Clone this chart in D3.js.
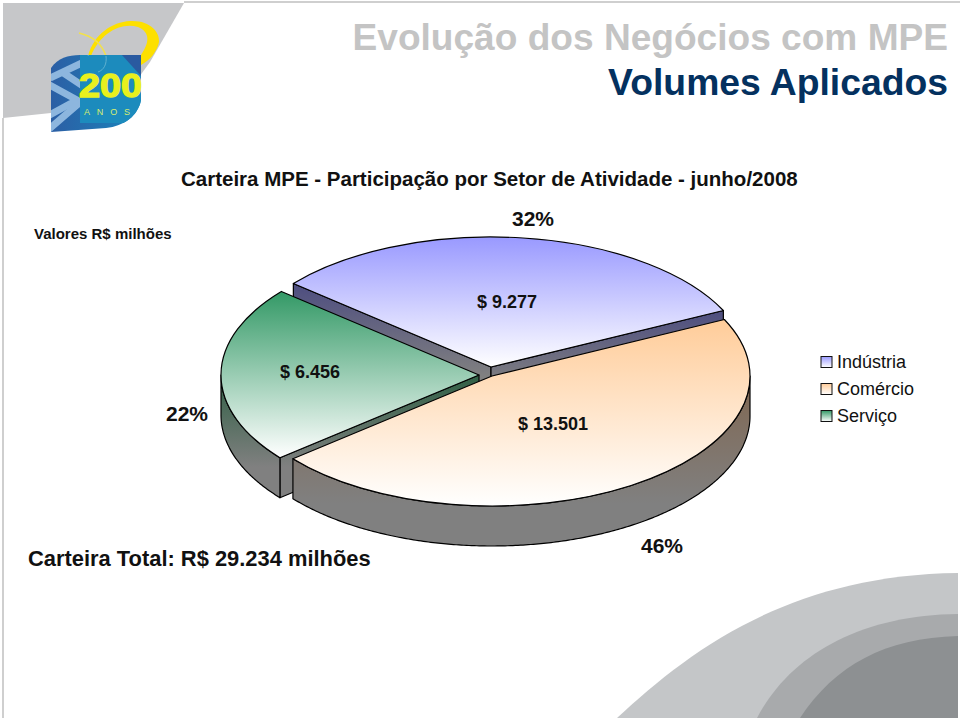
<!DOCTYPE html>
<html>
<head>
<meta charset="utf-8">
<title>Carteira MPE</title>
<script src="https://d3js.org/d3.v7.min.js"></script>
<style>
	html, body {margin:0; padding:0; background:#fff;}
	text {font-family:"Liberation Sans", Arial, sans-serif;}
</style>
</head>
<body>
<div id="ChartDiv"></div>
<script>
var Sectors = ["Indústria", "Comércio", "Serviço"];
var SectorValues = [9277, 13501, 6456];
var SectorValueLabels = ["$ 9.277", "$ 13.501", "$ 6.456"];
var SectorPercentLabels = ["32%", "46%", "22%"];
var SectorColors = ["#9999ff", "#ffcc99", "#339966"];
var SectorWallColors = ["#4d4d80", "#806650", "#2f5f44"];

var Width = 960, Height = 720;
var RadiusX = 258, RadiusY = 130, Depth = 40;
var StartAngle = -50 * Math.PI / 180;

// Each slice is pulled out a little, so each has its own centre
var SliceCentres = [[491, 367], [492, 376], [479, 375]];
var ValueLabelPos = [[507, 308], [553, 430], [310, 378]];
var PercentLabelPos = [[533, 226], [662, 553], [187, 421]];
var DrawOrder = [0, 2, 1];

var Svg = d3.select("#ChartDiv").append("svg")
	.attr("width", Width).attr("height", Height)
	.style("display", "block");
var Defs = Svg.append("defs");

function AddGradient(Id, Top, Bottom, BottomOffset) {
	var Grad = Defs.append("linearGradient").attr("id", Id)
		.attr("x1", 0).attr("y1", 0).attr("x2", 0).attr("y2", 1);
	Grad.append("stop").attr("offset", 0).attr("stop-color", Top);
	Grad.append("stop").attr("offset", BottomOffset).attr("stop-color", Bottom);
}

Sectors.forEach(function(d, i) {
	AddGradient("Top" + i, SectorColors[i], "#ffffff", 1);
	AddGradient("Wall" + i, SectorWallColors[i], "#808080", 0.75);
});

DrawBackground();
DrawLogo();
DrawPie();
DrawLegend();
DrawTexts();

function DrawBackground() {
	Svg.append("path")
		.attr("d", "M3,3 L184,3 L150,62 L118,106 L3,118 Z")
		.attr("fill", "#c6c7c9");
	Svg.append("path").attr("d", "M3,118 L3,718").attr("stroke", "#cfcfcf").attr("stroke-width", 2).attr("fill", "none");
	Svg.append("path").attr("d", "M184,2 L960,2").attr("stroke", "#cfcfcf").attr("stroke-width", 2).attr("fill", "none");

	Svg.append("path").attr("fill", "#c4c6c8")
		.attr("d", "M617,718 C690,650 790,575 958,573 L958,718 Z");
	Svg.append("path").attr("fill", "#a8aaac")
		.attr("d", "M757,718 C790,655 860,615 958,614 L958,718 Z");
	Svg.append("path").attr("fill", "#8d9092")
		.attr("d", "M800,718 C835,665 885,638 958,636 L958,718 Z");
}

function DrawLogo() {
	var Logo = Svg.append("g");
	var LogoGrad = Defs.append("linearGradient").attr("id", "LogoBlue");
	LogoGrad.append("stop").attr("offset", 0).attr("stop-color", "#2c5ea4");
	LogoGrad.append("stop").attr("offset", 1).attr("stop-color", "#1a86bd");
	Defs.append("clipPath").attr("id", "LogoClip").append("path")
		.attr("d", "M51,68 C58,58 68,55 80,55 L141,55 L141,100 C138,116 124,126 106,128 L51,132 Z");

	Logo.append("path").attr("fill", "#fde000")
		.attr("d", "M88,56 C94,34 112,22 130,21 C150,20 160,32 159,42 C157,52 150,60 141,65 L141,55 C150,42 150,32 138,27 C120,22 100,34 91,56 Z");
	Logo.append("path").attr("fill", "none").attr("stroke", "#f2e14a").attr("stroke-width", 1.5)
		.attr("d", "M79,33 C92,36 102,44 106,56");

	var Clip = Logo.append("g").attr("clip-path", "url(#LogoClip)");
	Clip.append("rect").attr("x", 50).attr("y", 54).attr("width", 92).attr("height", 80).attr("fill", "url(#LogoBlue)");
	Clip.append("polyline").attr("points", "48,84 77,100 48,116").attr("fill", "none").attr("stroke", "#8db6de").attr("stroke-width", 7);
	Clip.append("polyline").attr("points", "50,78 84,62").attr("fill", "none").attr("stroke", "#8db6de").attr("stroke-width", 7);
	Clip.append("polyline").attr("points", "62,72 92,92 48,130").attr("fill", "none").attr("stroke", "#8db6de").attr("stroke-width", 7);
	Clip.append("rect").attr("x", 80).attr("y", 55).attr("width", 61).attr("height", 68).attr("fill", "#1c8bbd");
	Clip.append("path").attr("d", "M122,55 L141,55 L141,76 Z").attr("fill", "#2a5aa0");
	Clip.append("path").attr("d", "M88,56 C91,48 97,42 104,40 M106,56 C107,64 104,70 98,72").attr("fill", "none").attr("stroke", "#5fb0cf").attr("stroke-width", 1);

	Logo.append("text").attr("x", 79).attr("y", 97).attr("textLength", 63).attr("lengthAdjust", "spacingAndGlyphs")
		.attr("font-size", 34).attr("font-weight", "bold").attr("fill", "#e8f01e")
		.attr("stroke", "#e8f01e").attr("stroke-width", 1.4).text("200");
	Logo.append("text").attr("x", 84).attr("y", 115).attr("textLength", 46)
		.attr("font-size", 9).attr("fill", "#d6ee70").text("ANOS");
}

function DrawPie() {
	var PieLayout = d3.pie().sort(null).startAngle(StartAngle).endAngle(StartAngle + 2 * Math.PI);
	var Slices = PieLayout(SectorValues);
	var SliceArc = d3.arc().innerRadius(0).outerRadius(RadiusX);
	var WallLine = d3.line();
	var YScale = RadiusY / RadiusX;

	DrawOrder.forEach(function(i) {
		var Slice = Slices[i];
		var Cx = SliceCentres[i][0], Cy = SliceCentres[i][1];
		var G = Svg.append("g").attr("class", "Slice");

		function Rim(Angle, Drop) {
			return [Cx + RadiusX * Math.sin(Angle), Cy - RadiusY * Math.cos(Angle) + Drop];
		}

		function AddCutFace(Angle) {
			G.append("path")
				.attr("d", WallLine([[Cx, Cy], Rim(Angle, 0), Rim(Angle, Depth), [Cx, Cy + Depth]]) + "Z")
				.attr("fill", "url(#Wall" + i + ")")
				.attr("stroke", "#000").attr("stroke-width", 1.2).attr("stroke-linejoin", "round");
		}

		// a cut face only shows if it looks down towards the viewer
		if (Math.sin(Slice.startAngle) < 0) AddCutFace(Slice.startAngle);
		if (Math.sin(Slice.endAngle) > 0) AddCutFace(Slice.endAngle);

		// outer face, only the part that looks at the viewer
		var From = Math.max(Slice.startAngle, Math.PI / 2);
		var To = Math.min(Slice.endAngle, 3 * Math.PI / 2);
		if (To > From) {
			var Angles = d3.range(From, To, 0.01).concat([To]);
			var Upper = Angles.map(function(a) {return Rim(a, 0);});
			var Lower = Angles.slice().reverse().map(function(a) {return Rim(a, Depth);});
			G.append("path")
				.attr("d", WallLine(Upper.concat(Lower)) + "Z")
				.attr("fill", "url(#Wall" + i + ")")
				.attr("stroke", "#000").attr("stroke-width", 1.2).attr("stroke-linejoin", "round");
		}

		G.append("path")
			.attr("d", SliceArc(Slice))
			.attr("transform", "translate(" + Cx + "," + Cy + ") scale(1," + YScale + ")")
			.attr("fill", "url(#Top" + i + ")")
			.attr("vector-effect", "non-scaling-stroke")
			.attr("stroke", "#000").attr("stroke-width", 1.2).attr("stroke-linejoin", "round");
	});
}

function DrawLegend() {
	var LegendY = d3.scalePoint().domain(Sectors).range([362, 416]);
	var Items = Svg.append("g").selectAll("g").data(Sectors).enter().append("g")
		.attr("transform", function(d) {return "translate(821," + LegendY(d) + ")";});
	Items.append("rect")
		.attr("x", 0).attr("y", -5.5).attr("width", 11).attr("height", 11)
		.attr("fill", function(d, i) {return "url(#Top" + i + ")";})
		.attr("stroke", "#111").attr("stroke-width", 1);
	Items.append("text")
		.attr("x", 16).attr("y", 6)
		.attr("font-size", 18).attr("fill", "#111")
		.text(function(d) {return d;});
}

function DrawTexts() {
	function Label(X, Y, Str, Size, Bold, Color, Anchor) {
		return Svg.append("text").attr("x", X).attr("y", Y).text(Str)
			.attr("font-size", Size).attr("font-weight", Bold ? "bold" : "normal")
			.attr("fill", Color).attr("text-anchor", Anchor || "start");
	}
	Label(948, 50, "Evolução dos Negócios com MPE", 37.1, true, "#c4c4c4", "end");
	Label(948, 95, "Volumes Aplicados", 37.3, true, "#04315f", "end");
	Label(181, 186, "Carteira MPE - Participação por Setor de Atividade - junho/2008", 20.5, true, "#111");
	Label(34, 239, "Valores R$ milhões", 15, true, "#111");
	Label(28, 566, "Carteira Total: R$ 29.234 milhões", 21.9, true, "#111");

	Sectors.forEach(function(d, i) {
		Label(ValueLabelPos[i][0], ValueLabelPos[i][1], SectorValueLabels[i], 18, true, "#111", "middle");
		Label(PercentLabelPos[i][0], PercentLabelPos[i][1], SectorPercentLabels[i], 21, true, "#111", "middle");
	});
}
</script>
</body>
</html>
